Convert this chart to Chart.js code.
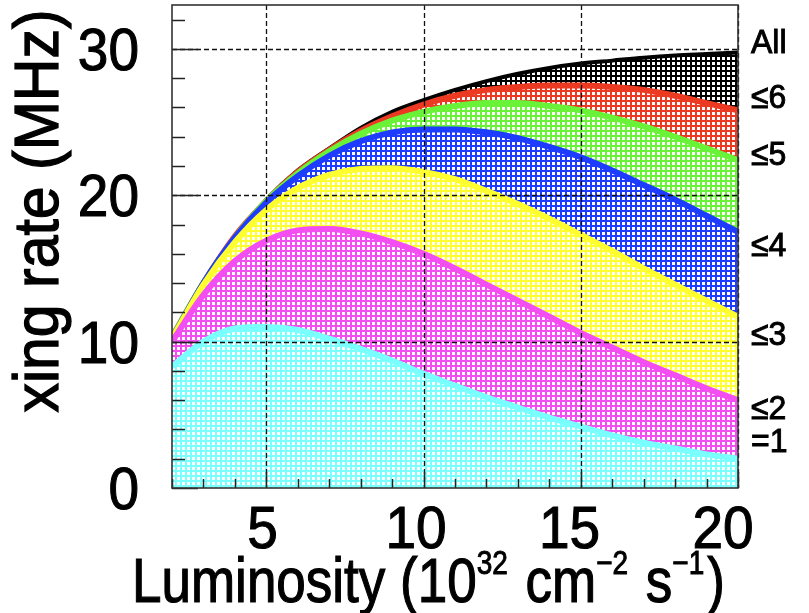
<!DOCTYPE html>
<html>
<head>
<meta charset="utf-8">
<script src="https://cdn.jsdelivr.net/npm/chart.js@4.4.1/dist/chart.umd.min.js"></script>
<style>
  html, body { margin: 0; padding: 0; background: #fff; }
  canvas { display: block; }
</style>
</head>
<body>
<canvas id="chart" width="809" height="613"></canvas>
<script>
// luminosity (10^32 cm^-2 s^-1)
const lumi = [2, 3, 4, 5, 6, 7, 8, 9, 10, 11, 12, 13, 14, 15, 16, 17, 18, 19, 20]

// crossing rate (MHz), cumulative by number of interactions
const rateEq1 = [8.3, 10.0, 10.9, 11.0, 10.8, 10.2, 9.5, 8.7, 7.8, 7.0, 6.2, 5.5, 4.8, 4.2, 3.6, 3.1, 2.7, 2.3, 2.0]
const rateLe2 = [10.0, 13.2, 15.5, 16.9, 17.6, 17.7, 17.4, 16.8, 16.0, 15.0, 13.9, 12.8, 11.7, 10.6, 9.6, 8.6, 7.7, 6.8, 6.0]
const rateLe3 = [10.2, 13.9, 16.8, 19.0, 20.5, 21.4, 21.8, 21.85, 21.6, 21.1, 20.3, 19.4, 18.4, 17.3, 16.2, 15.0, 13.9, 12.8, 11.7]
const rateLe4 = [10.2, 14.0, 17.1, 19.5, 21.3, 22.7, 23.7, 24.3, 24.5, 24.5, 24.3, 23.9, 23.3, 22.6, 21.7, 20.7, 19.7, 18.6, 17.5]
const rateLe5 = [10.3, 14.0, 17.1, 19.6, 21.5, 23.0, 24.2, 25.1, 25.7, 26.1, 26.3, 26.3, 26.1, 25.8, 25.3, 24.7, 24.0, 23.2, 22.4]
const rateLe6 = [10.3, 14.0, 17.2, 19.6, 21.6, 23.1, 24.4, 25.4, 26.2, 26.8, 27.2, 27.4, 27.5, 27.5, 27.4, 27.2, 26.8, 26.3, 25.8]
const rateAll = [10.3, 14.1, 17.2, 19.7, 21.7, 23.2, 24.6, 25.7, 26.5, 27.2, 27.8, 28.3, 28.7, 29.0, 29.2, 29.4, 29.55, 29.65, 29.75]

const bandNames = ['=1', '\u22642', '\u22643', '\u22644', '\u22645', '\u22646', 'All']
const bandLabelAt = [3.2, 5.5, 10.5, 16.6, 22.8, 26.7, 30.5]

const xTicks = [5, 10, 15, 20]
const yTicks = [0, 10, 20, 30]

const colors = ['#7affff', '#f24ef2', '#ffff30', '#1d3cff', '#6af238', '#ec3a22', '#000000']
const series = [rateEq1, rateLe2, rateLe3, rateLe4, rateLe5, rateLe6, rateAll]

// ROOT-like mesh fill: coloured lines with white holes
function hatch(color) {
    const c = document.createElement('canvas')
    c.width = 5
    c.height = 5
    const g = c.getContext('2d')
    g.fillStyle = color
    g.fillRect(0, 0, 5, 5)
    g.fillStyle = '#ffffff'
    g.fillRect(2, 2, 3, 3)
    return g.createPattern(c, 'repeat')
}

const FONT = '"Liberation Sans", Arial, Helvetica, sans-serif'

function stretched(ctx, txt, x, y, size, sy, align, stroke) {
    ctx.save()
    ctx.translate(x, y)
    ctx.scale(1, sy)
    ctx.font = size + 'px ' + FONT
    ctx.textAlign = align
    ctx.textBaseline = 'alphabetic'
    ctx.fillText(txt, 0, 0)
    if (stroke) {
        ctx.lineWidth = stroke
        ctx.strokeStyle = '#000'
        ctx.strokeText(txt, 0, 0)
    }
    ctx.restore()
}

const decor = {
    id: 'decor',
    afterDatasetsDraw(chart) {
        const { ctx, chartArea: a, scales: { x, y } } = chart
        ctx.save()

        // dashed grid
        ctx.strokeStyle = '#111'
        ctx.lineWidth = 1.3
        ctx.setLineDash([5, 3])
        xTicks.forEach(v => {
            const px = Math.round(x.getPixelForValue(v)) + 0.5
            ctx.beginPath(); ctx.moveTo(px, a.top); ctx.lineTo(px, a.bottom); ctx.stroke()
        })
        yTicks.slice(1).forEach(v => {
            const py = Math.round(y.getPixelForValue(v)) + 0.5
            ctx.beginPath(); ctx.moveTo(a.left, py); ctx.lineTo(a.right, py); ctx.stroke()
        })
        ctx.setLineDash([])

        // tick marks inside the frame
        ctx.strokeStyle = '#222'
        ctx.lineWidth = 1.5
        for (let v = 0; v <= 32; v += 2) {
            const py = Math.round(y.getPixelForValue(v)) + 0.5
            const len = v % 10 === 0 ? 26 : 13
            ctx.beginPath(); ctx.moveTo(a.left, py); ctx.lineTo(a.left + len, py); ctx.stroke()
        }
        for (let v = 2; v <= 20; v++) {
            const px = Math.round(x.getPixelForValue(v)) + 0.5
            const len = v % 5 === 0 ? 16 : 9
            ctx.beginPath(); ctx.moveTo(px, a.bottom); ctx.lineTo(px, a.bottom - len); ctx.stroke()
        }

        // frame
        ctx.strokeStyle = '#333'
        ctx.lineWidth = 1.6
        ctx.strokeRect(a.left, a.top, a.right - a.left, a.bottom - a.top)
        ctx.restore()
    },
    afterDraw(chart) {
        const { ctx, chartArea: a, scales: { x, y } } = chart
        ctx.save()
        ctx.fillStyle = '#000'

        // y tick labels
        yTicks.forEach(v => {
            const py = y.getPixelForValue(v)
            stretched(ctx, String(v), 139, py + 21, 55, 1.07, 'right', 1)
        })
        // x tick labels
        xTicks.forEach(v => {
            const px = x.getPixelForValue(v) - 0.75 * v
            stretched(ctx, String(v), px, 548, 55, 1.07, 'center', 1)
        })

        // band labels on the right
        bandNames.forEach((name, i) => {
            const py = y.getPixelForValue(bandLabelAt[i])
            stretched(ctx, name, a.right + 13, py + 11, 32, 1.05, 'left', 0.9)
        })

        // y title
        ctx.save()
        ctx.translate(43, 211)
        ctx.rotate(-Math.PI / 2)
        stretched(ctx, 'xing rate (MHz)', 0, 15, 59, 1.08, 'center', 1.2)
        ctx.restore()

        // x title with superscripts
        const parts = [
            ['Luminosity (10', false], ['32', true], [' cm', false],
            ['\u22122', true], [' s', false], ['\u22121', true], [')', false]
        ]
        let cx = 132
        parts.forEach(([txt, sup]) => {
            const size = sup ? 28 : 53
            const base = sup ? 574 : 602
            stretched(ctx, txt, cx, base, size, 1.2, 'left', sup ? 0.8 : 1)
            ctx.font = size + 'px ' + FONT
            cx += ctx.measureText(txt).width + (sup ? 3 : 0)
        })
        ctx.restore()
    }
}

const datasets = series.map((data, i) => ({
    label: bandNames[i],
    data: data.map((v, k) => ({ x: lumi[k], y: v })),
    borderColor: colors[i],
    backgroundColor: hatch(colors[i]),
    borderWidth: i === 6 ? 4 : 6,
    pointRadius: 0,
    cubicInterpolationMode: 'monotone',
    fill: i === 0 ? 'origin' : '-1'
}))

const ctx = document.getElementById('chart').getContext('2d')
new Chart(ctx, {
    type: 'line',
    data: { datasets: datasets },
    options: {
        responsive: false,
        animation: false,
        layout: { padding: { left: 172, right: 71, top: 5, bottom: 125 } },
        plugins: { legend: { display: false }, tooltip: { enabled: false } },
        scales: {
            x: {
                type: 'linear', min: 2, max: 20,
                grid: { display: false, drawTicks: false },
                border: { display: false },
                ticks: { display: false }
            },
            y: {
                min: 0, max: 33,
                grid: { display: false, drawTicks: false },
                border: { display: false },
                ticks: { display: false }
            }
        }
    },
    plugins: [decor]
})
</script>
</body>
</html>
